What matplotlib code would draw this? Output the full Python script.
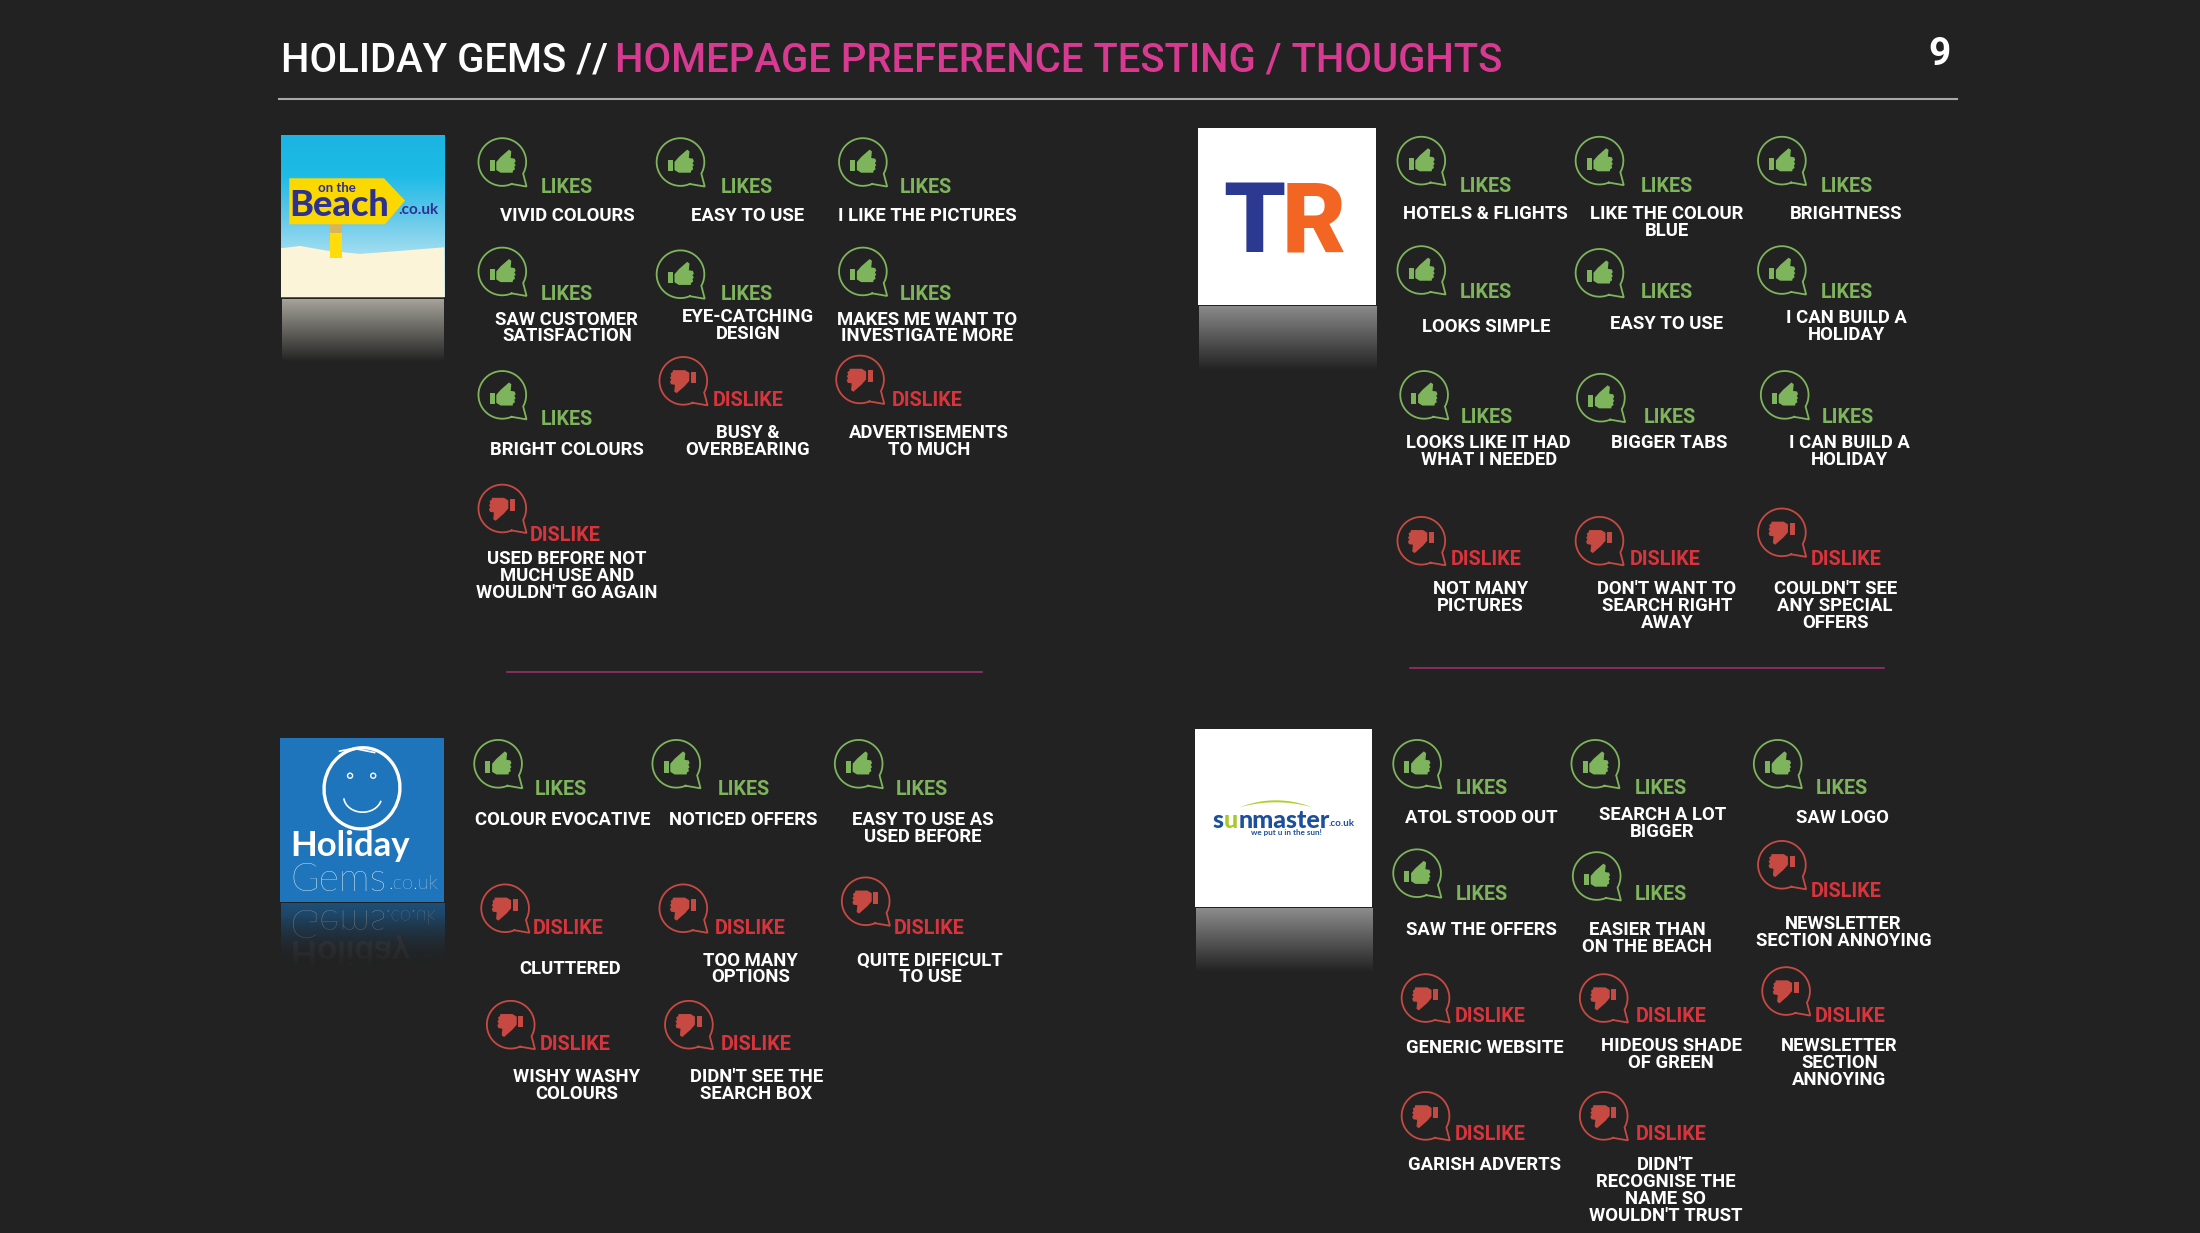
import numpy as np
import matplotlib
matplotlib.use('Agg')
import matplotlib.pyplot as plt
from matplotlib.colors import to_rgba
from matplotlib.patches import Circle, Ellipse, PathPatch, Polygon, Rectangle
from matplotlib.textpath import TextPath
from matplotlib.font_manager import FontProperties
from matplotlib.transforms import Affine2D

BG = '#222222'
GREEN = '#7eb55c'
RED_ICON = '#c64a42'
RED_TXT = '#d9343b'
PINK = '#d83a92'
S = 2200 / 1568
FONT = 'Roboto'

title_white = 'HOLIDAY GEMS //'
title_pink = 'HOMEPAGE PREFERENCE TESTING / THOUGHTS'
page_no = '9'

beach_kinds = 'LLLLLLLDDD'
beach_texts = ['VIVID COLOURS', 'EASY TO USE', 'I LIKE THE PICTURES',
               'SAW CUSTOMER\nSATISFACTION', 'EYE-CATCHING\nDESIGN', 'MAKES ME WANT TO\nINVESTIGATE MORE',
               'BRIGHT COLOURS', 'BUSY &\nOVERBEARING', 'ADVERTISEMENTS\nTO MUCH',
               "USED BEFORE NOT\nMUCH USE AND\nWOULDN'T GO AGAIN"]
beach_icons = [(358, 115), (485, 115), (615, 115), (358, 193), (485, 195), (615, 193),
               (358, 281), (487, 271), (613, 270), (358, 362)]
beach_tags = [(404, 133), (532, 133), (660, 133), (404, 209), (532, 209), (660, 209),
              (404, 298), (533, 285), (661, 285), (403, 381)]
beach_pos = [(404, 153), (533, 153), (661, 153), (404, 233), (533, 231), (661, 233),
             (404, 320), (533, 314), (662, 314), (404, 410)]

tr_kinds = 'LLLLLLLLLDDD'
tr_texts = ['HOTELS & FLIGHTS', 'LIKE THE COLOUR\nBLUE', 'BRIGHTNESS',
            'LOOKS SIMPLE', 'EASY TO USE', 'I CAN BUILD A\nHOLIDAY',
            'LOOKS LIKE IT HAD\nWHAT I NEEDED', 'BIGGER TABS', 'I CAN BUILD A\nHOLIDAY',
            'NOT MANY\nPICTURES', "DON'T WANT TO\nSEARCH RIGHT\nAWAY", "COULDN'T SEE\nANY SPECIAL\nOFFERS"]
tr_icons = [(1013, 114), (1140, 114), (1270, 114), (1013, 192), (1140, 194), (1270, 192),
            (1015, 281), (1141, 283), (1272, 281), (1013, 385), (1140, 385), (1270, 379)]
tr_tags = [(1059, 132), (1188, 132), (1316, 132), (1059, 208), (1188, 208), (1316, 208),
           (1060, 297), (1190, 297), (1317, 297), (1059, 398), (1187, 398), (1316, 398)]
tr_pos = [(1059, 152), (1188, 158), (1316, 152), (1059, 232), (1188, 230), (1316, 232),
          (1061, 321), (1190, 315), (1318, 321), (1055, 425), (1188, 431), (1308, 431)]

gems_kinds = 'LLLDDDDD'
gems_texts = ['COLOUR EVOCATIVE', 'NOTICED OFFERS', 'EASY TO USE AS\nUSED BEFORE',
              'CLUTTERED', 'TOO MANY\nOPTIONS', 'QUITE DIFFICULT\nTO USE',
              'WISHY WASHY\nCOLOURS', "DIDN'T SEE THE\nSEARCH BOX"]
gems_icons = [(355, 544), (482, 544), (612, 544), (360, 647), (487, 647), (617, 642), (364, 730), (491, 730)]
gems_tags = [(400, 562), (530, 562), (657, 562), (405, 661), (535, 661), (662, 661), (410, 744), (539, 744)]
gems_pos = [(401, 584), (530, 584), (658, 590), (406, 690), (535, 690), (663, 690), (411, 773), (539, 773)]

sun_kinds = 'LLLLLDDDDDD'
sun_texts = ['ATOL STOOD OUT', 'SEARCH A LOT\nBIGGER', 'SAW LOGO',
             'SAW THE OFFERS', 'EASIER THAN\nON THE BEACH', 'NEWSLETTER\nSECTION ANNOYING',
             'GENERIC WEBSITE', 'HIDEOUS SHADE\nOF GREEN', 'NEWSLETTER\nSECTION\nANNOYING',
             'GARISH ADVERTS', "DIDN'T\nRECOGNISE THE\nNAME SO\nWOULDN'T TRUST"]
sun_icons = [(1010, 544), (1137, 544), (1267, 544), (1010, 622), (1138, 624), (1270, 616),
             (1016, 711), (1143, 711), (1273, 706), (1016, 795), (1143, 795)]
sun_tags = [(1056, 561), (1184, 561), (1313, 561), (1056, 637), (1184, 637), (1316, 635),
            (1062, 724), (1191, 724), (1319, 724), (1062, 808), (1191, 808)]
sun_pos = [(1056, 582), (1185, 586), (1313, 582), (1056, 662), (1174, 668), (1314, 664),
           (1058, 746), (1191, 751), (1311, 757), (1058, 830), (1187, 848)]

panels = [(beach_kinds, beach_texts, beach_icons, beach_tags, beach_pos),
          (tr_kinds, tr_texts, tr_icons, tr_tags, tr_pos),
          (gems_kinds, gems_texts, gems_icons, gems_tags, gems_pos),
          (sun_kinds, sun_texts, sun_icons, sun_tags, sun_pos)]

fig = plt.figure(figsize=(22, 12.33), dpi=100, facecolor=BG)
ax = fig.add_axes([0, 0, 1, 1])
ax.set_facecolor(BG)
ax.axis('off')


def grad(x0, x1, y0, y1, colors, z=1):
    # vertical gradient, colors run top -> bottom
    cols = np.array([to_rgba(c) for c in colors])
    t = np.linspace(0, 1, 256)
    stops = np.linspace(0, 1, len(cols))
    img = np.stack([np.interp(t, stops, cols[:, i]) for i in range(4)], axis=1)[:, None, :]
    ax.imshow(img, extent=(x0, x1, y1, y0), aspect='auto', zorder=z)


def icon(cx, cy, like):
    col = GREEN if like else RED_ICON
    r = 17.0
    a = np.radians(np.linspace(67, 389, 80))
    pts = np.c_[cx + r * np.cos(a), cy + r * np.sin(a)]
    pts = np.vstack([pts, [cx + 17.3, cy + 17.5], pts[0]])
    ax.plot(pts[:, 0], pts[:, 1], color=col, lw=1.3, solid_joinstyle='miter', zorder=3)
    sgn = 1 if like else -1
    fist = np.array([(-18, 0), (-5, -15), (12, -30), (20, -37), (27, -32), (25, -12), (37, -10), (40, -2),
                     (36, 3), (40, 10), (36, 14), (38, 22), (32, 26), (31, 32), (-5, 32), (-18, 24)]) / 4.2
    cuff = np.array([(-38, -7), (-23, -7), (-23, 27), (-38, 27)]) / 4.2
    for shape in (fist, cuff):
        ax.add_patch(Polygon(np.c_[cx + sgn * shape[:, 0], cy + sgn * shape[:, 1]],
                             closed=True, fc=col, ec='none', zorder=3))


def label(x, y, s, col='white', size=13.3):
    ax.text(x, y + 0.8, s, color=col, fontsize=size, family=FONT, weight='bold', ha='center', va='center',
            linespacing=0.92, zorder=4)


def P(ox, oy, pts):
    # logo shapes measured on 3x crops of the picture
    return [((ox + x / 3) / S, (oy + y / 3) / S) for x, y in pts]


def mirrored(s, x, y, pts, weight, col):
    # reflected logo text, the inverted y axis flips the glyphs
    tp = TextPath((0, 0), s, size=pts / 0.72 / S, prop=FontProperties(family='Lato', weight=weight))
    ax.add_patch(PathPatch(tp, transform=Affine2D().translate(x, y) + ax.transData, fc=col, ec='none', zorder=2))


ax.set_xlim(0, 1568)
ax.set_ylim(879, 0)

# header
ax.text(200.5, 43, title_white, color='white', fontsize=28.8, family=FONT, weight='medium', va='center', ha='left')
ax.text(438.5, 43, title_pink, color=PINK, fontsize=28.8, family=FONT, weight='medium', va='center', ha='left')
ax.text(1382, 39, page_no, color='white', fontsize=28, family=FONT, weight='bold', va='center', ha='center')
ax.plot([199, 1395], [70.5, 70.5], color='#a8a8a8', lw=1.5)
ax.plot([361, 700], [479, 479], color='#a23270', lw=1.1)
ax.plot([1005, 1343], [476, 476], color='#a23270', lw=1.1)

# on the beach logo
ox, oy = 260, 110
x0, x1, y0, y1 = 200.3, 316.6, 96.9, 211.8
grad(x0, x1, y0, y1, ['#1cb4e2', '#1dbbe6', '#63c8ea', '#a6dff0', '#cdeaf2'])
sand = P(ox, oy, [(63, 415), (120, 408), (200, 422), (300, 432), (430, 422), (553, 412), (553, 562), (63, 562)])
ax.add_patch(Polygon(sand, fc='#fbf4d8', ec='none', zorder=2))
ax.add_patch(Polygon(P(ox, oy, [(210, 343), (245, 343), (245, 443), (210, 443)]), fc='#ffdc0a', ec='none', zorder=2))
ax.add_patch(Polygon(P(ox, oy, [(210, 343), (245, 343), (245, 368), (210, 368)]), fc='#d8b45a', ec='none', zorder=2))
ax.add_patch(Polygon(P(ox, oy, [(88, 205), (372, 205), (435, 272), (375, 343), (88, 343)]), fc='#fbd900', ec='none', zorder=2))
ax.text(242, 146.5, 'Beach', color='#2d3192', fontsize=26, family='Lato', weight='black', ha='center', va='center', zorder=3)
ax.text(240, 134, 'on the', color='#2d3192', fontsize=9.5, family='Lato', weight='bold', ha='center', va='center', zorder=3)
ax.text(298.5, 150, '.co.uk', color='#2d3192', fontsize=11, family='Lato', weight='bold', ha='center', va='center', zorder=3)
grad(x0 + 0.5, x1 - 0.5, y1 + 1.5, 258, ['#a5a39a', BG])

# TR logo
x0, x1, y0, y1 = 854, 981, 91.5, 217.5
ax.add_patch(Rectangle((x0, y0), x1 - x0, y1 - y0, fc='white', ec='none', zorder=1))
ax.text(894, 153.5, 'T', color='#2b3990', fontsize=71, family='Roboto', weight=900, ha='center', va='center_baseline', zorder=3)
ax.text(936.5, 153.5, 'R', color='#f26522', fontsize=71, family='Roboto', weight=900, ha='center', va='center_baseline', zorder=3)
grad(x0 + 0.5, x1, y1 + 1.5, 264, ['#8a8a8a', BG])

# holiday gems logo
x0, x1, y0, y1 = 199.6, 316.6, 525.8, 642.9
ax.add_patch(Rectangle((x0, y0), x1 - x0, y1 - y0, fc='#1e75bb', ec='none', zorder=1))
ax.add_patch(Ellipse((258, 562), 54, 58, angle=10, fc='none', ec='white', lw=2.4, zorder=3))
ax.plot([242, 252, 267], [535.5, 533.5, 536.5], color='white', lw=1.2, zorder=3)
ax.add_patch(Circle((249.5, 553), 1.8, fc='none', ec='white', lw=1, zorder=3))
ax.add_patch(Circle((266, 553), 1.8, fc='none', ec='white', lw=1, zorder=3))
t = np.linspace(0.1, 0.95, 30) * np.pi
ax.plot(258.5 + 13.5 * np.cos(t), 568 + 11 * np.sin(t), color='white', lw=1.2, zorder=3)
ax.text(207, 603, 'Holiday', color='white', fontsize=25, family='Lato', weight='bold', ha='left', va='center', zorder=3)
ax.text(207, 627, 'Gems', color='white', fontsize=28, family='Lato', weight='light', ha='left', va='center', zorder=3)
ax.text(312, 630.5, '.co.uk', color='white', fontsize=14.5, family='Lato', weight='light', ha='right', va='center', zorder=3)
grad(x0 + 0.5, x1, y1 + 1, 690, ['#1d4f78', BG])
mirrored('Gems', 207, 649, 28, 'light', '#8a8e92')
mirrored('.co.uk', 275, 649, 14.5, 'light', '#8a8e92')
mirrored('Holiday', 207, 671, 25, 'bold', '#3c3f42')
grad(x0, x1, 652, 690, [to_rgba(BG, 0), to_rgba(BG, 1)], z=2.5)

# sunmaster logo
x0, x1, y0, y1 = 851.8, 977.8, 520, 646.4
ax.add_patch(Rectangle((x0, y0), x1 - x0, y1 - y0, fc='white', ec='none', zorder=1))
ax.text(864.5, 585, 's', color='#1c4f9c', fontsize=18, family='Lato', weight='black', ha='left', va='center', zorder=3)
ax.text(872.5, 585, 'u', color='#a9c92b', fontsize=18, family='Lato', weight='black', ha='left', va='center', zorder=3)
ax.text(883, 585, 'nmaster', color='#1c4f9c', fontsize=18, family='Lato', weight='black', ha='left', va='center', zorder=3)
ax.text(956.5, 587, '.co.uk', color='#1c4f9c', fontsize=7, family='Lato', weight='bold', ha='center', va='center', zorder=3)
ax.text(917, 593.5, 'we put u in the sun!', color='#1c4f9c', fontsize=5.8, family='Lato', weight='bold', ha='center', va='center', zorder=3)
arc_x = np.linspace(883, 935, 40)
bump = 1 - ((arc_x - 909) / 26) ** 2
ax.fill_between(arc_x, 575.2 - 5 * bump, 575.2 - 3.6 * bump, color='#b0cf2a', lw=0, zorder=3)
grad(x0 + 0.5, x1, y1 + 1.5, 693, ['#8c8c8c', BG])

# feedback items
for kinds, texts, icons, tags, pos in panels:
    for k, s, ic, tg, p in zip(kinds, texts, icons, tags, pos):
        like = k == 'L'
        icon(ic[0], ic[1] + 0.5, like)
        label(tg[0], tg[1], 'LIKES' if like else 'DISLIKE', col=GREEN if like else RED_TXT, size=14.2)
        label(p[0], p[1], s)

ax.set_xlim(0, 1568)
ax.set_ylim(879, 0)
fig.savefig('out.png', dpi=100, facecolor=BG)
